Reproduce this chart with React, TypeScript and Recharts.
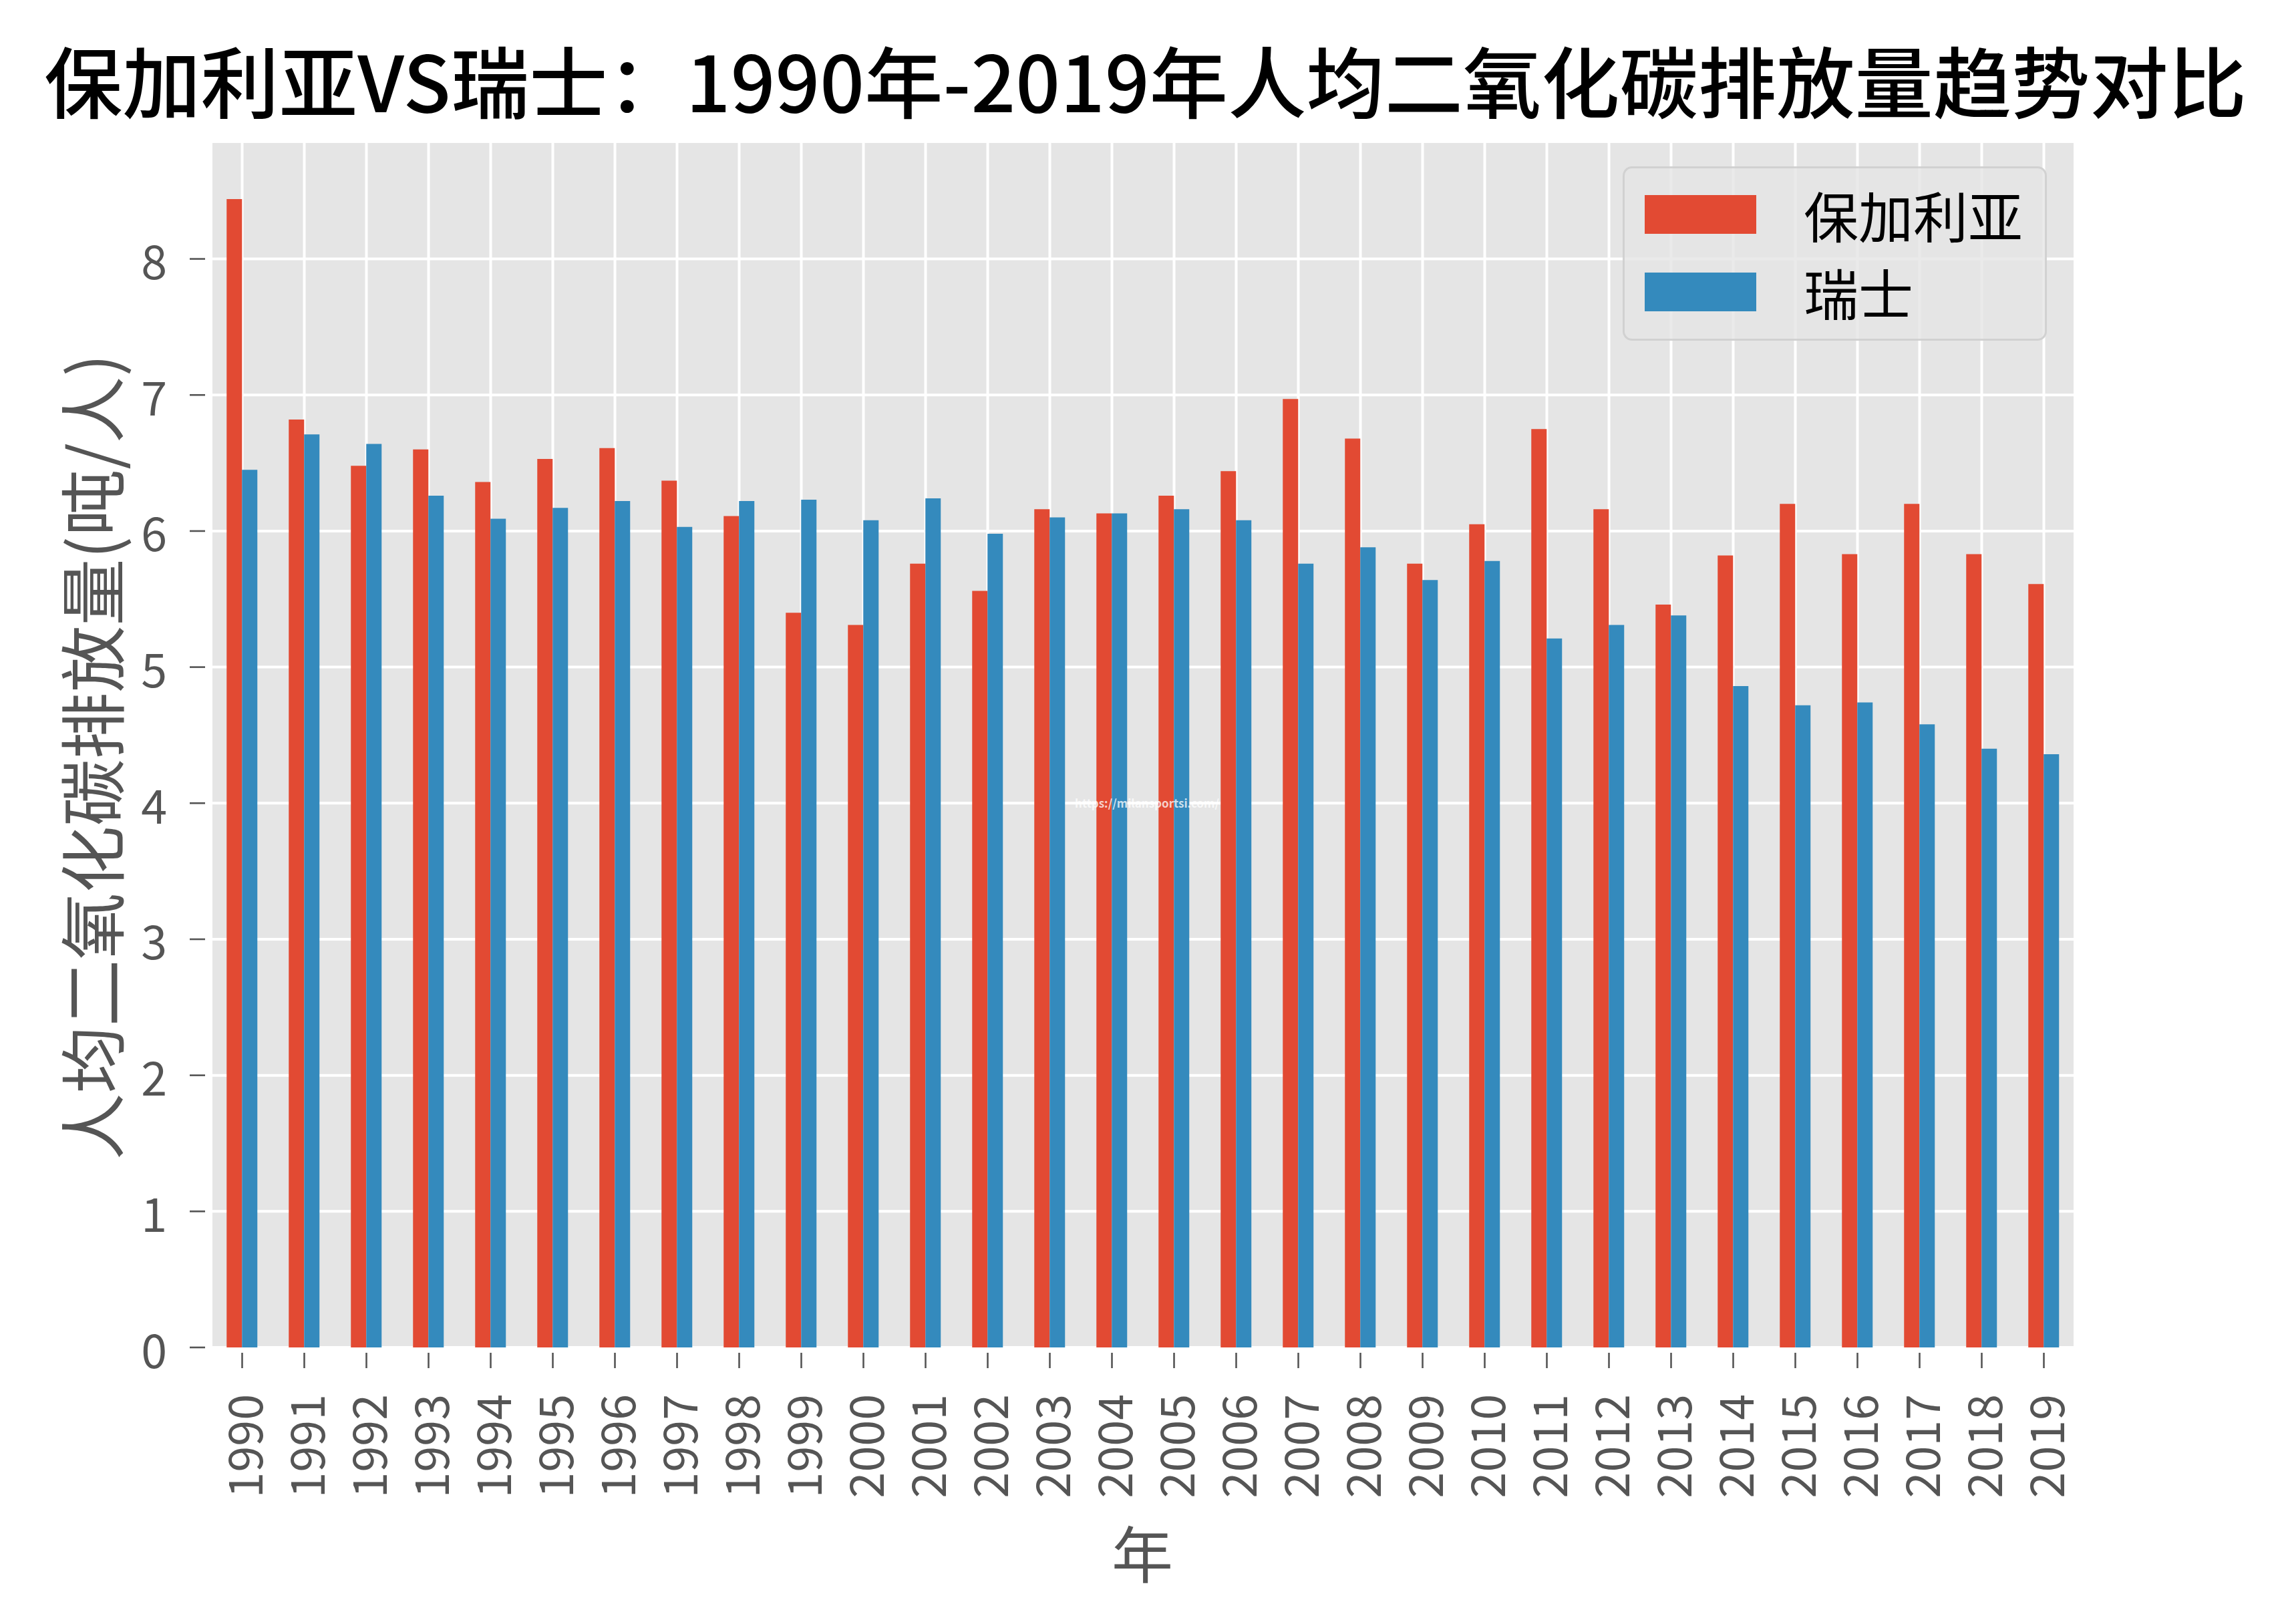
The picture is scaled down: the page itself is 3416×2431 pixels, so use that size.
import React from 'react'
import { BarChart, Bar, XAxis, YAxis, CartesianGrid, Legend } from 'recharts'

// ─── Data ─────────────────────────────────────────────────────────────────────

const years = [
  '1990', '1991', '1992', '1993', '1994', '1995', '1996', '1997', '1998', '1999',
  '2000', '2001', '2002', '2003', '2004', '2005', '2006', '2007', '2008', '2009',
  '2010', '2011', '2012', '2013', '2014', '2015', '2016', '2017', '2018', '2019',
]

const bulgaria = [
  8.44, 6.82, 6.48, 6.6, 6.36, 6.53, 6.61, 6.37, 6.11, 5.4,
  5.31, 5.76, 5.56, 6.16, 6.13, 6.26, 6.44, 6.97, 6.68, 5.76,
  6.05, 6.75, 6.16, 5.46, 5.82, 6.2, 5.83, 6.2, 5.83, 5.61,
]

const switzerland = [
  6.45, 6.71, 6.64, 6.26, 6.09, 6.17, 6.22, 6.03, 6.22, 6.23,
  6.08, 6.24, 5.98, 6.1, 6.13, 6.16, 6.08, 5.76, 5.88, 5.64,
  5.78, 5.21, 5.31, 5.38, 4.86, 4.72, 4.74, 4.58, 4.4, 4.36,
]

const yTicks = [0, 1, 2, 3, 4, 5, 6, 7, 8]

const data = years.map((year, i) => ({
  year,
  bg: bulgaria[i],
  ch: switzerland[i],
}))

// ─── Style ────────────────────────────────────────────────────────────────────

const FONT = '"Noto Sans CJK SC", "Noto Sans", sans-serif'
const TICK_COLOR = '#555555'
const RED = '#E24A33'
const BLUE = '#348ABD'

// ─── Ticks ────────────────────────────────────────────────────────────────────

function YearTick({ x, y, payload }: any) {
  const ty = y + 70
  return (
    <g>
      <line x1={x} x2={x} y1={y + 8} y2={y + 31} stroke={TICK_COLOR} strokeWidth={2.6} />
      <text
        x={x}
        y={ty}
        transform={`rotate(-90 ${x} ${ty})`}
        textAnchor="end"
        dominantBaseline="central"
        fill={TICK_COLOR}
        fontSize={70}
      >
        {payload.value}
      </text>
    </g>
  )
}

function ValueTick({ x, y, payload }: any) {
  return (
    <g>
      <line x1={x - 32} x2={x - 9} y1={y} y2={y} stroke={TICK_COLOR} strokeWidth={2.6} />
      <text
        x={x - 66}
        y={y}
        textAnchor="end"
        dominantBaseline="central"
        fill={TICK_COLOR}
        fontSize={70}
      >
        {payload.value}
      </text>
    </g>
  )
}

// ─── Legend ───────────────────────────────────────────────────────────────────

function LegendBox({ payload }: any) {
  return (
    <div
      style={{
        width: 635,
        height: 261,
        boxSizing: 'border-box',
        background: 'rgba(229,229,229,0.8)',
        border: '3px solid rgba(204,204,204,0.8)',
        borderRadius: 14,
        paddingTop: 11,
        fontFamily: FONT,
      }}
    >
      {(payload ?? []).map((item: any) => (
        <div key={item.value} style={{ display: 'flex', alignItems: 'center', height: 116 }}>
          <span style={{ display: 'inline-block', marginLeft: 30, width: 167, height: 58, background: item.color }} />
          <span style={{ marginLeft: 71, fontSize: 82, color: '#000', lineHeight: 1 }}>{item.value}</span>
        </div>
      ))}
    </div>
  )
}

// ─── Chart ────────────────────────────────────────────────────────────────────

export default function App() {
  return (
    <div style={{ position: 'absolute', left: 0, top: 0, width: 3416, height: 2431, background: '#fff', fontFamily: FONT }}>
      <BarChart
        width={3416}
        height={2431}
        data={data}
        margin={{ top: 212, right: 310, bottom: 0, left: 0 }}
        barCategoryGap="25%"
        barGap={0}
      >
        <CartesianGrid fill="#E5E5E5" stroke="#FFFFFF" strokeWidth={4} />
        <XAxis
          dataKey="year"
          type="category"
          interval={0}
          height={414}
          axisLine={false}
          tickLine={false}
          tickSize={0}
          tickMargin={0}
          tick={<YearTick />}
        />
        <YAxis
          type="number"
          domain={[0, 8.862]}
          ticks={yTicks}
          width={316}
          axisLine={false}
          tickLine={false}
          tickSize={0}
          tickMargin={0}
          tick={<ValueTick />}
        />
        <Legend
          layout="vertical"
          align="center"
          verticalAlign="middle"
          content={<LegendBox />}
          wrapperStyle={{ left: 2429, top: 249, width: 635, height: 261 }}
        />
        <Bar dataKey="bg" name="保加利亚" fill={RED} isAnimationActive={false} />
        <Bar dataKey="ch" name="瑞士" fill={BLUE} isAnimationActive={false} />
      </BarChart>

      {/* Title */}
      <svg style={{ position: 'absolute', left: 0, top: 0 }} width={3416} height={212}>
        <text
          x={66}
          y={117}
          dominantBaseline="central"
          textLength={3297}
          lengthAdjust="spacingAndGlyphs"
          fontSize={116}
          fontFamily={FONT}
          fontWeight={500}
          fill="#000"
        >
          保加利亚VS瑞士：1990年-2019年人均二氧化碳排放量趋势对比
        </text>
      </svg>

      {/* Axis labels */}
      <div
        style={{
          position: 'absolute',
          left: 134,
          top: 1133,
          transform: 'translate(-50%, -50%) rotate(-90deg)',
          fontSize: 100,
          color: TICK_COLOR,
          whiteSpace: 'nowrap',
          lineHeight: 1,
        }}
      >
        人均二氧化碳排放量(吨/人)
      </div>
      <div
        style={{
          position: 'absolute',
          left: 1710,
          top: 2322,
          transform: 'translate(-50%, -50%)',
          fontSize: 92,
          color: TICK_COLOR,
          lineHeight: 1,
        }}
      >
        年
      </div>

      {/* Watermark */}
      <div
        style={{
          position: 'absolute',
          left: 1717,
          top: 1201,
          transform: 'translate(-50%, -50%)',
          fontSize: 17,
          fontWeight: 700,
          color: 'rgba(255,255,255,0.75)',
          whiteSpace: 'nowrap',
        }}
      >
        https://milansportsi.com/
      </div>
    </div>
  )
}
